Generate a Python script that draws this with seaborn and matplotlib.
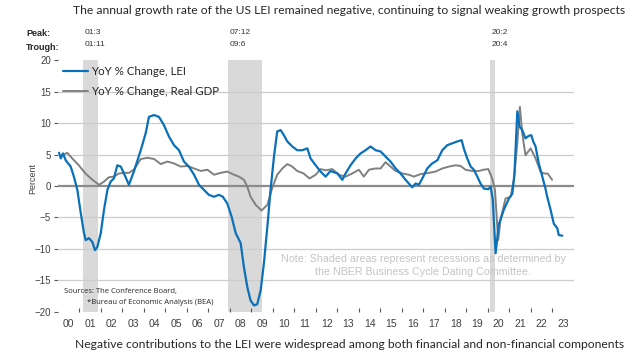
import matplotlib
matplotlib.use("Agg")
import matplotlib.pyplot as plt
import numpy as np
import pandas as pd
import seaborn as sns

# LEI, YoY % change
lei_year = [2000.05, 2000.13, 2000.23, 2000.36, 2000.59, 2000.74, 2000.90, 2001.06, 2001.21, 2001.29,
            2001.44, 2001.60, 2001.72, 2001.83, 2001.99, 2002.14, 2002.30, 2002.45, 2002.60, 2002.76,
            2002.92, 2003.07, 2003.30, 2003.53, 2003.85, 2004.08, 2004.23, 2004.47, 2004.70, 2004.93,
            2005.16, 2005.40, 2005.63, 2005.86, 2006.09, 2006.33, 2006.56, 2006.79, 2007.02, 2007.26,
            2007.49, 2007.67, 2007.88, 2008.08, 2008.27, 2008.50, 2008.65, 2008.81, 2008.96, 2009.12,
            2009.27, 2009.43, 2009.58, 2009.74, 2009.89, 2010.05, 2010.20, 2010.36, 2010.51, 2010.67,
            2010.90, 2011.13, 2011.37, 2011.60, 2011.75, 2011.99, 2012.22, 2012.45, 2012.68, 2013.00,
            2013.23, 2013.38, 2013.61, 2013.85, 2014.08, 2014.31, 2014.54, 2014.78, 2015.01, 2015.24,
            2015.47, 2015.71, 2015.94, 2016.17, 2016.48, 2016.64, 2016.79, 2016.95, 2017.18, 2017.41,
            2017.65, 2017.88, 2018.11, 2018.34, 2018.58, 2018.78, 2018.88, 2019.04, 2019.20, 2019.35,
            2019.51, 2019.66, 2019.81, 2020.02, 2020.13, 2020.23, 2020.36, 2020.51, 2020.74, 2020.98,
            2021.14, 2021.24, 2021.37, 2021.47, 2021.60, 2021.75, 2021.91, 2022.02, 2022.11, 2022.22,
            2022.37, 2022.53, 2022.68, 2022.76, 2022.92, 2023.07, 2023.23, 2023.30, 2023.46]
lei_val = [5.3, 4.4, 5.2, 4.1, 3.1, 1.5, -0.6, -4.3, -7.5, -8.6,
           -8.3, -8.9, -10.2, -9.7, -7.5, -3.8, -0.6, 0.7, 1.2, 3.3,
           3.1, 2.0, 0.2, 2.3, 5.7, 8.4, 11.0, 11.3, 11.0, 9.7,
           7.9, 6.5, 5.7, 3.9, 3.1, 1.8, 0.2, -0.6, -1.4, -1.7,
           -1.4, -1.7, -2.8, -4.9, -7.5, -9.1, -12.9, -16.1, -18.2, -19.0,
           -18.8, -16.6, -12.3, -6.5, -0.6, 4.7, 8.7, 8.9, 8.1, 7.1,
           6.3, 5.7, 5.7, 6.0, 4.4, 3.3, 2.3, 1.5, 2.4, 2.0,
           1.0, 2.0, 3.3, 4.4, 5.2, 5.7, 6.3, 5.7, 5.5, 4.7,
           3.9, 2.8, 2.0, 1.0, -0.2, 0.4, 0.2, 1.2, 2.8, 3.6,
           4.1, 5.7, 6.5, 6.8, 7.1, 7.3, 6.0, 4.4, 3.1, 2.6,
           1.5, 0.4, -0.4, -0.5, -0.1, -2.2, -10.7, -6.1, -3.8, -2.0,
           -1.2, 2.0, 11.9, 9.5, 8.9, 7.6, 8.0, 8.1, 7.1, 6.3,
           3.6, 1.5, -0.4, -1.7, -3.8, -6.0, -6.7, -7.8, -7.9]

# Real GDP, YoY % change
gdp_year = [2000.20, 2000.43, 2000.66, 2000.97, 2001.28, 2001.60, 2001.91, 2002.14, 2002.37, 2002.60,
            2002.84, 2003.07, 2003.30, 2003.53, 2003.85, 2004.16, 2004.47, 2004.78, 2005.09, 2005.40,
            2005.71, 2006.02, 2006.33, 2006.64, 2006.95, 2007.26, 2007.57, 2007.88, 2008.19, 2008.42,
            2008.65, 2008.81, 2008.96, 2009.20, 2009.47, 2009.74, 2009.97, 2010.20, 2010.44, 2010.67,
            2010.90, 2011.13, 2011.43, 2011.70, 2011.99, 2012.22, 2012.45, 2012.76, 2013.07, 2013.38,
            2013.69, 2014.00, 2014.23, 2014.47, 2014.78, 2015.01, 2015.24, 2015.47, 2015.71, 2016.02,
            2016.33, 2016.56, 2016.87, 2017.26, 2017.57, 2017.88, 2018.19, 2018.50, 2018.73, 2018.96,
            2019.27, 2019.58, 2019.81, 2020.02, 2020.20, 2020.33, 2020.48, 2020.59, 2020.82, 2021.06,
            2021.21, 2021.37, 2021.49, 2021.60, 2021.75, 2021.99, 2022.22, 2022.45, 2022.60, 2022.78,
            2022.99]
gdp_val = [4.9, 5.3, 4.4, 3.3, 2.0, 1.0, 0.2, 0.7, 1.4, 1.5,
           2.0, 2.1, 2.1, 2.6, 4.3, 4.5, 4.3, 3.5, 3.9, 3.6,
           3.1, 3.2, 2.8, 2.4, 2.6, 1.8, 2.1, 2.3, 1.8, 1.5,
           1.0, -0.1, -1.7, -3.0, -3.9, -3.0, -0.3, 1.8, 2.8, 3.5,
           3.1, 2.4, 2.0, 1.2, 1.8, 2.7, 2.5, 2.7, 1.8, 1.5,
           2.0, 2.6, 1.5, 2.6, 2.8, 2.8, 3.8, 3.1, 2.4, 2.0,
           1.8, 1.5, 1.9, 2.1, 2.3, 2.8, 3.1, 3.3, 3.2, 2.6,
           2.4, 2.4, 2.6, 2.7, 1.2, -0.6, -8.6, -5.4, -2.0, -1.7,
           1.0, 6.8, 12.6, 8.4, 4.9, 6.0, 4.4, 2.3, 2.0, 2.0,
           1.0]

# NBER recessions
rec_start = [2001.17, 2007.92, 2020.10]
rec_end = [2001.88, 2009.47, 2020.32]
rec_peak = ["01:3", "07:12", "20:2"]
rec_trough = ["01:11", "09:6", "20:4"]

year_labels = [f"{y:02d}" for y in range(0, 24)]
y_ticks = [-20, -15, -10, -5, 0, 5, 10, 15, 20]

sns.set_style("white")
plt.rcParams["font.family"] = ["Liberation Sans", "DejaVu Sans"]

fig = plt.figure(figsize=(6.4, 3.56), dpi=100)
ax = fig.add_axes([0.0906, 0.1244, 0.806, 0.706])

for s, e in zip(rec_start, rec_end):
    ax.axvspan(s, e, color="#d9d9d9", lw=0, zorder=0)

for y in [-15, -10, -5, 5, 10, 15]:
    ax.axhline(y, color="#cccccc", lw=0.9, zorder=1)
ax.axhline(0, color="#8c8c8c", lw=1.6, zorder=1)

lei = pd.DataFrame({"year": lei_year, "value": lei_val})
gdp = pd.DataFrame({"year": gdp_year, "value": gdp_val})
sns.lineplot(data=lei, x="year", y="value", ax=ax, color="#0a70b8", lw=1.6,
             label="YoY % Change, LEI", zorder=3)
sns.lineplot(data=gdp, x="year", y="value", ax=ax, color="#808080", lw=1.4,
             label="YoY % Change, Real GDP", zorder=2)

ax.set_xlim(2000, 2024)
ax.set_ylim(-20, 20)
ax.set_xlabel("")
ax.set_ylabel("")
for sp in ax.spines.values():
    sp.set_visible(False)

ax.set_yticks(y_ticks)
ax.tick_params(axis="y", length=3, width=0.8, color="#595959", labelsize=7,
               labelcolor="#404040", pad=2, left=True)
ax.set_xticks(np.arange(2001, 2024))
ax.set_xticklabels([])
ax.set_xticks(np.arange(2000, 2024) + 0.5, minor=True)
ax.set_xticklabels(year_labels, minor=True)
ax.tick_params(axis="x", which="major", direction="in", length=3, width=0.8,
               color="#595959", bottom=True)
ax.tick_params(axis="x", which="minor", length=0, labelsize=7.5,
               labelcolor="#404040", pad=5)

leg = ax.legend(loc="upper left", bbox_to_anchor=(-0.003, 1.005), frameon=False,
                handlelength=2.1, handletextpad=0.3, labelspacing=0.75,
                borderaxespad=0.2, prop={"family": "Lato", "size": 8.3})
for t in leg.get_texts():
    t.set_color("#262626")

fig.text(33 / 640, 1 - 178 / 356, "Percent", rotation=90, fontsize=6.5,
         color="#404040", ha="center", va="center")

# header texts
fig.text(349 / 640, 1 - 10 / 356, "The annual growth rate of the US LEI remained negative, "
         "continuing to signal weaking growth prospects",
         ha="center", va="center", fontsize=8.75, family="Lato", color="#262626")
fig.text(350 / 640, 1 - 344 / 356, "Negative contributions to the LEI were widespread among "
         "both financial and non-financial components",
         ha="center", va="center", fontsize=8.75, family="Lato", color="#262626")
fig.text(26 / 640, 1 - 33 / 356, "Peak:", fontsize=6.5, weight="bold", color="#262626",
         va="center")
fig.text(26 / 640, 1 - 47 / 356, "Trough:", fontsize=6.5, weight="bold", color="#262626",
         va="center")
for s, p, t in zip(rec_start, rec_peak, rec_trough):
    ax.annotate(p, (s, 20), xytext=(1, 20), textcoords="offset points",
                fontsize=6, color="#333333", va="center")
    ax.annotate(t, (s, 20), xytext=(1, 11.5), textcoords="offset points",
                fontsize=6, color="#333333", va="center")

ax.text(2017.0, -12.7, "Note: Shaded areas represent recessions as determined by\n"
        "the NBER Business Cycle Dating Committee.", ha="center", va="center",
        fontsize=7.7, color="#c4c4c4", linespacing=1.35)
fig.text(64 / 640, 1 - 292 / 356, "Sources: The Conference Board,", fontsize=5.5,
         family="Open Sans", color="#262626", va="center")
fig.text(87 / 640, 1 - 303 / 356, "*Bureau of Economic Analysis (BEA)", fontsize=5.5,
         family="Open Sans", color="#262626", va="center")

fig.savefig("out.png", dpi=100)
